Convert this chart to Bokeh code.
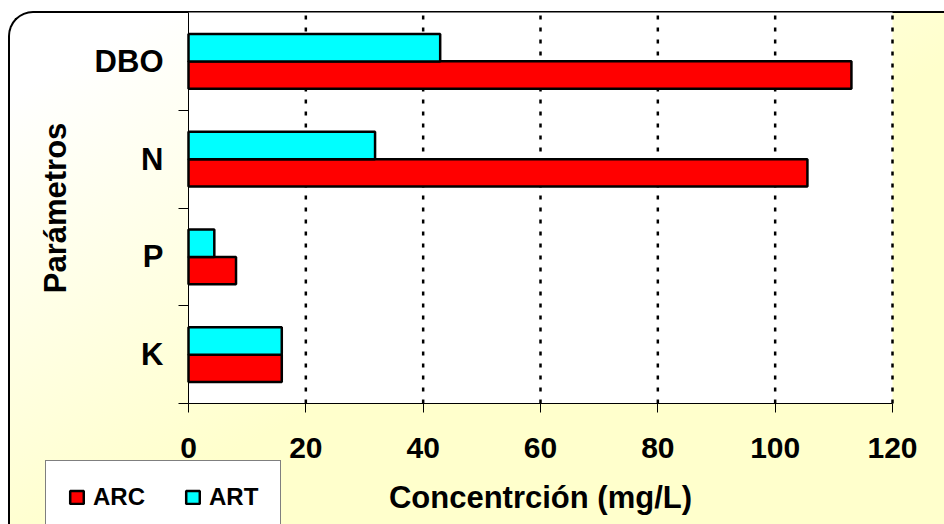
import numpy as np
from bokeh.plotting import figure
from bokeh.models import (ColumnDataSource, Range1d, FixedTicker, Legend, LegendItem,
                          BoxAnnotation)
from bokeh.embed import file_html
from bokeh.resources import INLINE

# ---- data ----
categories = ["K", "P", "N", "DBO"]
arc_values = [15.9, 8.1, 105.5, 113.0]
art_values = [15.9, 4.4, 31.8, 42.9]
x_ticks = [0, 20, 40, 60, 80, 100, 120]
series_names = ["ARC", "ART"]

# ---- style / layout ----
FONT = "Liberation Sans"
BAR_H = 0.281
RED = "#FF0000"
CYAN = "#00FFFF"

W, H = 944, 524
PL, PT, PR, PB = 188, 12, 892, 403  # plot-area placement in pixels

x0, x1 = x_ticks[0], x_ticks[-1]
y0, y1 = 0, len(categories)
xs = (PR - PL) / (x1 - x0)
ys = (PB - PT) / (y1 - y0)
x_range = Range1d(x0 - PL / xs, x1 + (W - PR) / xs)
y_range = Range1d(y0 - (H - PB) / ys, y1 + PT / ys)

css = """
:host::before {
  content: "";
  position: absolute;
  left: 8px; top: 11px; width: 936px; height: 513px;
  box-sizing: border-box;
  border-top: 2px solid #000; border-left: 2px solid #000;
  border-top-left-radius: 25px;
  background: linear-gradient(to bottom right, #FFFFFF 0%, #FFFFFF 8%, #FFFFCC 55%);
  z-index: -1;
  pointer-events: none;
}
"""

p = figure(width=W, height=H, output_backend="svg", toolbar_location=None,
           x_range=x_range, y_range=y_range,
           min_border_left=0, min_border_top=0, min_border_right=0, min_border_bottom=0,
           stylesheets=[css])
p.border_fill_color = None
p.background_fill_color = None
p.outline_line_color = None

# white plot area
p.add_layout(BoxAnnotation(left=x0, right=x1, bottom=y0, top=y1, fill_color="white",
                           fill_alpha=1, line_color=None, level="underlay"))

pos = np.arange(len(categories)) + 0.5
src = ColumnDataSource(dict(cat=categories, y_arc=pos - BAR_H / 2, y_art=pos + BAR_H / 2,
                            arc=arc_values, art=art_values))

# dotted vertical grid lines at the x ticks
grid_src = ColumnDataSource(dict(x=x_ticks[1:], b=[y0] * (len(x_ticks) - 1),
                                 t=[y1] * (len(x_ticks) - 1)))
p.segment(x0="x", x1="x", y0="b", y1="t", source=grid_src, line_color="black",
          line_width=2.5, line_dash="4 8")

r_arc = p.hbar(y="y_arc", left=0, right="arc", height=BAR_H, source=src,
               fill_color=RED, line_color="black", line_width=2.5)
r_art = p.hbar(y="y_art", left=0, right="art", height=BAR_H, source=src,
               fill_color=CYAN, line_color="black", line_width=2.5)

p.xgrid.visible = False
p.ygrid.visible = False

# x axis
xa = p.xaxis[0]
xa.fixed_location = y0
xa.bounds = (x0, x1)
xa.ticker = FixedTicker(ticks=x_ticks)
xa.axis_line_color = "black"
xa.major_tick_out = 9
xa.major_tick_in = 0
xa.major_tick_line_color = "black"
xa.major_label_text_font = FONT
xa.major_label_text_font_style = "bold"
xa.major_label_text_font_size = "30px"
xa.major_label_text_color = "black"
xa.major_label_standoff = 25
xa.axis_label = "Concentrción (mg/L)"
xa.axis_label_text_font = FONT
xa.axis_label_text_font_style = "bold"
xa.axis_label_text_font_size = "31px"
xa.axis_label_text_color = "black"
xa.axis_label_standoff = 19

# y axis
ya = p.yaxis[0]
ya.fixed_location = x0
ya.bounds = (y0, y1)
ya.ticker = FixedTicker(ticks=list(pos), minor_ticks=list(np.arange(len(categories))))
ya.major_label_overrides = {float(v): c for v, c in zip(pos, categories)}
ya.axis_line_color = "black"
ya.major_tick_out = 0
ya.major_tick_in = 0
ya.minor_tick_out = 10
ya.minor_tick_in = 0
ya.minor_tick_line_color = "black"
ya.major_label_text_font = FONT
ya.major_label_text_font_style = "bold"
ya.major_label_text_font_size = "31px"
ya.major_label_text_color = "black"
ya.major_label_standoff = 15
ya.axis_label = "Parámetros"
ya.axis_label_text_font = FONT
ya.axis_label_text_font_style = "bold"
ya.axis_label_text_font_size = "31px"
ya.axis_label_text_color = "black"
ya.axis_label_standoff = 19

legend = Legend(items=[LegendItem(label=series_names[0], renderers=[r_arc]),
                       LegendItem(label=series_names[1], renderers=[r_art])],
                orientation="horizontal", location=(45, -10),
                background_fill_color="white", background_fill_alpha=1,
                border_line_color="black", border_line_width=1,
                label_text_font=FONT, label_text_font_style="bold",
                label_text_font_size="24px", label_text_color="black",
                glyph_width=17, glyph_height=16, label_standoff=8,
                spacing=39, padding=22, margin=0)
p.add_layout(legend, "center")

open("out.html", "w").write(file_html(p, INLINE))
